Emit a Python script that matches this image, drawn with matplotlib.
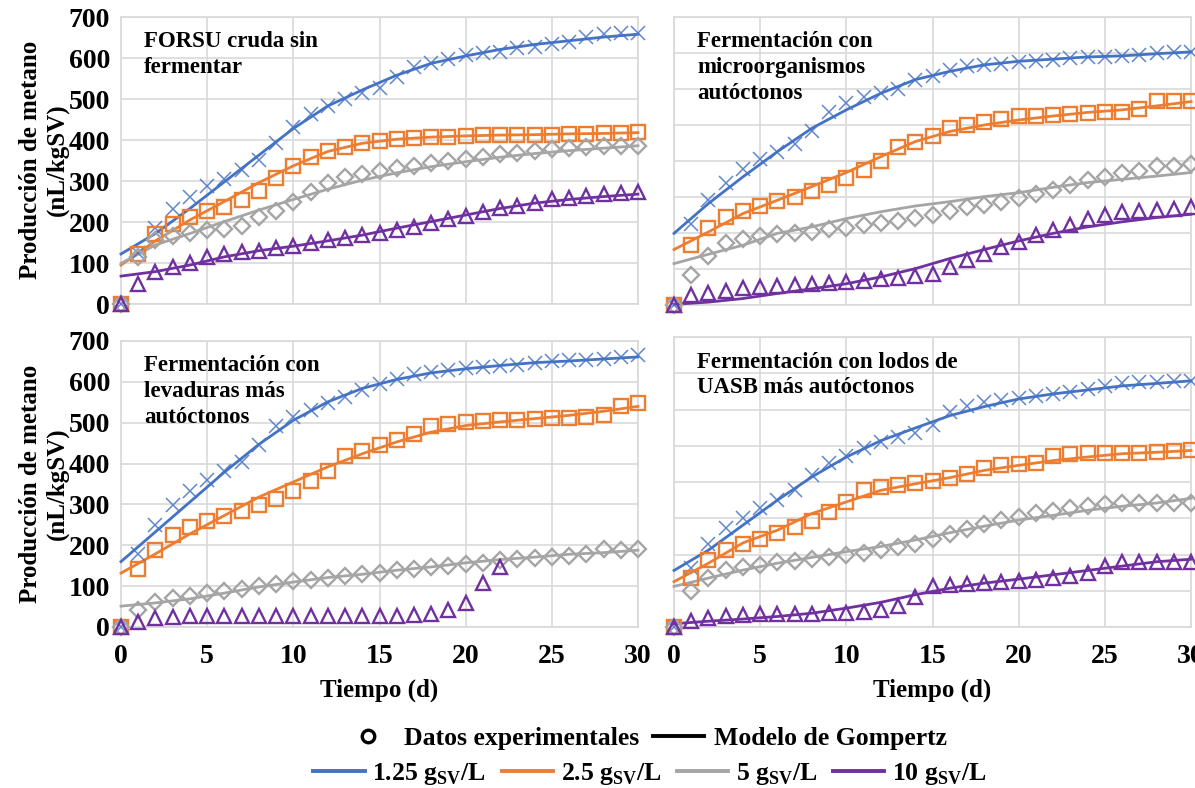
import matplotlib
matplotlib.use("Agg")
import matplotlib.pyplot as plt
from matplotlib.lines import Line2D

plt.rcParams['font.family'] = ['Liberation Serif', 'DejaVu Serif']
plt.rcParams['font.weight'] = 'bold'
plt.rcParams['mathtext.fontset'] = 'custom'
plt.rcParams['mathtext.rm'] = 'Liberation Serif:bold'
plt.rcParams['mathtext.bf'] = 'Liberation Serif:bold'

# dias de medicion y dias donde se leyo la curva del modelo
dias = list(range(31))
dias_modelo = [0, 2, 4, 6, 8, 10, 12, 14, 16, 18, 20, 22, 24, 26, 28, 30]

# ---- FORSU cruda sin fermentar
forsu_125 = [0,125,185,231,262,288,305,328,351,393,432,463,483,499,514,528,553,579,589,597,607,613,615,624,628,633,640,652,658,662,662]
forsu_25 = [0,122,170,195,211,226,236,254,276,308,337,359,374,384,392,398,402,406,408,408,410,411,412,412,413,413,415,415,416,418,419]
forsu_5 = [0,115,156,166,174,180,184,190,211,228,248,274,296,309,317,325,331,337,343,350,354,359,366,369,374,377,380,384,385,386,386]
forsu_10 = [0,49,79,91,101,115,122,126,130,136,141,148,156,162,168,174,180,189,197,207,215,224,233,239,247,255,259,263,268,270,272]
forsu_125_mod = [122,172,233,298,363,428,483,522,558,587,605,621,633,642,651,658]
forsu_25_mod = [95,154,205,250,296,337,372,392,402,407,410,412,413,415,416,418]
forsu_5_mod = [99,144,172,201,229,255,280,302,320,335,347,358,367,374,380,386]
forsu_10_mod = [68,79,95,115,130,141,154,168,185,201,217,233,246,255,262,268]

# ---- microorganismos autoctonos
micro_125 = [0,225,291,340,377,405,426,447,484,535,562,577,590,600,626,637,653,663,666,670,674,677,681,685,689,690,692,695,700,704,704]
micro_25 = [0,166,214,245,262,275,290,301,317,333,352,375,401,440,454,470,491,500,507,516,525,525,527,531,533,535,537,544,568,568,568]
micro_5 = [0,83,135,171,184,192,196,201,203,210,214,222,228,233,243,250,261,271,277,287,296,308,319,333,347,356,366,372,386,386,392]
micro_10 = [0,27,32,39,48,50,52,55,58,61,64,67,71,76,80,87,106,126,143,161,175,194,208,222,240,250,258,262,265,268,271]
micro_125_mod = [199,282,356,426,491,542,588,626,649,667,677,683,689,692,698,703]
micro_25_mod = [154,203,254,291,329,368,412,454,482,500,514,525,535,542,553,565]
micro_5_mod = [115,141,166,199,217,240,259,275,287,301,312,327,340,349,358,368]
micro_10_mod = [2,8,18,32,45,59,78,101,129,154,178,199,217,231,243,252]

# ---- levaduras mas autoctonos
lev_125 = [0,179,249,299,334,360,383,404,445,491,515,532,548,563,581,595,608,620,624,630,635,636,638,642,646,651,653,654,657,662,665]
lev_25 = [0,143,188,226,245,259,271,285,298,314,334,357,383,418,431,445,457,472,491,498,502,504,506,507,509,511,512,514,520,542,548]
lev_5 = [0,42,61,72,75,83,88,94,100,106,112,116,121,124,129,133,139,143,147,149,153,157,163,167,170,171,175,179,190,188,192]
lev_10 = [0,12,22,24,26,26,26,26,26,26,27,27,27,27,27,27,27,30,33,41,59,108,148]
lev_125_mod = [160,233,306,379,447,506,551,584,606,622,632,640,647,651,656,661]
lev_25_mod = [132,179,228,273,318,355,392,424,453,477,493,502,510,518,528,540]
lev_5_mod = [51,59,69,83,98,110,121,129,139,147,157,165,171,178,182,188]

# ---- lodos UASB mas autoctonos
uasb_125 = [0,162,229,272,302,327,351,379,418,452,473,494,510,524,535,558,592,610,620,626,633,638,643,647,656,665,672,675,677,679,679]
uasb_25 = [0,135,185,212,229,244,258,275,292,318,345,377,386,391,397,403,412,423,439,446,449,452,473,478,480,480,481,481,482,485,487]
uasb_5 = [0,98,135,156,165,171,178,183,187,192,199,205,212,222,229,242,256,269,284,295,304,315,320,327,333,339,342,342,342,341,342]
uasb_10 = [0,16,25,31,33,35,35,37,37,38,40,42,46,59,84,112,116,119,121,124,128,130,135,141,150,167,178,178,178,178,179]
uasb_125_mod = [156,212,281,350,414,469,514,549,583,608,629,643,654,665,672,679]
uasb_25_mod = [125,176,232,267,313,345,377,395,412,432,446,459,469,478,482,487]
uasb_5_mod = [112,135,157,176,192,208,222,240,260,278,295,308,322,333,342,355]
uasb_10_mod = [9,16,22,29,38,52,68,89,107,121,132,144,156,168,180,187]

azul = '#4472C4'
naranja = '#ED7D31'
gris = '#A5A5A5'
morado = '#7030A0'

estilos = [
    dict(marker='x', color=azul, ms=10, mew=1.1, alpha=0.85),
    dict(marker='s', color=naranja, ms=10, mew=1.7, mfc='none'),
    dict(marker='D', color=gris, ms=8, mew=1.7, mfc='none'),
    dict(marker='^', color=morado, ms=10, mew=1.7, mfc='none'),
]
colores = [azul, naranja, gris, morado]

fig = plt.figure(figsize=(11.95, 7.88), dpi=100)
W, H = 1195, 788


def crear_ejes(x0, x1, y0, y1):
    return fig.add_axes([x0 / W, 1 - y1 / H, (x1 - x0) / W, (y1 - y0) / H])


paneles = [
    (crear_ejes(121, 638, 17, 304), 700, "FORSU cruda sin\nfermentar",
     [forsu_125, forsu_25, forsu_5, forsu_10],
     [forsu_125_mod, forsu_25_mod, forsu_5_mod, forsu_10_mod], True, False),
    (crear_ejes(674, 1191, 17, 305), 800, "Fermentación con\nmicroorganismos\nautóctonos",
     [micro_125, micro_25, micro_5, micro_10],
     [micro_125_mod, micro_25_mod, micro_5_mod, micro_10_mod], False, False),
    (crear_ejes(121, 638, 341, 627), 700, "Fermentación con\nlevaduras más\nautóctonos",
     [lev_125, lev_25, lev_5, lev_10],
     [lev_125_mod, lev_25_mod, lev_5_mod, None], True, True),
    (crear_ejes(674, 1191, 337, 627), 800, "Fermentación con lodos de\nUASB más autóctonos",
     [uasb_125, uasb_25, uasb_5, uasb_10],
     [uasb_125_mod, uasb_25_mod, uasb_5_mod, uasb_10_mod], False, True),
]

for ax, ymax, titulo, datos, modelos, etiqueta_y, etiqueta_x in paneles:
    for serie, modelo, est, col in zip(datos, modelos, estilos, colores):
        if modelo is not None:
            ax.plot(dias_modelo, modelo, color=col, lw=2, clip_on=False, zorder=3)
        ax.plot(dias[:len(serie)], serie, linestyle='none', clip_on=False, zorder=4, **est)
    ax.set_xlim(0, 30)
    ax.set_ylim(0, ymax)
    ax.set_xticks(range(0, 31, 5))
    ax.set_yticks(range(0, ymax + 1, 100))
    ax.grid(True, color='#D9D9D9', lw=1.2)
    ax.set_axisbelow(True)
    for s in ax.spines.values():
        s.set_color('#D9D9D9')
        s.set_linewidth(1.2)
    ax.tick_params(axis='y', length=0, labelsize=20, pad=8)
    ax.tick_params(axis='x', length=0, labelsize=20, pad=12)
    if not etiqueta_y:
        ax.set_yticklabels([])
    if etiqueta_x:
        ax.set_xlabel("Tiempo (d)", fontsize=18, fontweight='bold', labelpad=7)
    else:
        ax.set_xticklabels([])
    for lab in ax.get_xticklabels() + ax.get_yticklabels():
        lab.set_fontweight('bold')
    ax.text(0.045, 0.95, titulo, transform=ax.transAxes, ha='left', va='top',
            fontsize=16.5, fontweight='bold', linespacing=1.3, zorder=5)

for yc in (160, 484):
    fig.text(44 / W, 1 - yc / H, "Producción de metano\n(nL/kgSV)", rotation=90,
             ha='center', va='center', fontsize=18, fontweight='bold',
             multialignment='center', linespacing=1.2)

h1 = [Line2D([], [], linestyle='none', marker='o', mfc='none', mec='black', mew=2.4, ms=9, color='black'),
      Line2D([], [], color='black', lw=2.8)]
fig.legend(h1, ["Datos experimentales", "Modelo de Gompertz"], loc='center',
           bbox_to_anchor=(645 / W, 1 - 738 / H), ncol=2, frameon=False,
           prop=dict(size=18.5, weight='bold'), handlelength=2.0, handletextpad=0.4,
           columnspacing=0.5)

h2 = [Line2D([], [], color=c, lw=2.8) for c in colores]
etiquetas = [r"1.25 g$_{\mathrm{SV}}$/L", r"2.5 g$_{\mathrm{SV}}$/L",
             r"5 g$_{\mathrm{SV}}$/L", r"10 g$_{\mathrm{SV}}$/L"]
fig.legend(h2, etiquetas, loc='center', bbox_to_anchor=(650 / W, 1 - 774 / H), ncol=4,
           frameon=False, prop=dict(size=18.5, weight='bold'), handlelength=2.0,
           handletextpad=0.3, columnspacing=0.6)

fig.savefig("out.png", dpi=100)
